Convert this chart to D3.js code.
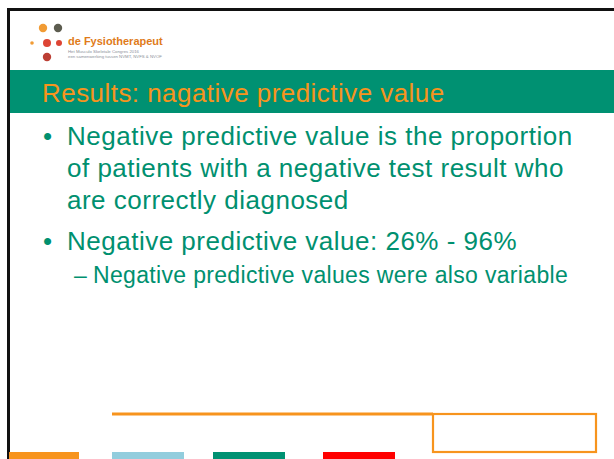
<!DOCTYPE html>
<meta charset="utf-8">
<html>
<head>
  <script src="https://d3js.org/d3.v7.min.js" charset="utf-8"></script>
  <style>
    body { margin: 0; background: #fff; }
    svg { display: block; }
    text { font-family: 'Liberation Sans', Arial, sans-serif; }
    .title { fill: #f7941d; font-size: 26px; letter-spacing: 0.45px; }
    .bullet { fill: #00906f; font-size: 26px; letter-spacing: 0.5px; }
    .sub { fill: #00906f; font-size: 23px; letter-spacing: 0.33px; }
  </style>
</head>
<body>
  <script>
    // slide content
    var title = 'Results: nagative predictive value';
    var bullets = [
      ['Negative predictive value is the proportion',
       'of patients with a negative test result who',
       'are correctly diagnosed'],
      ['Negative predictive value: 26% - 96%']
    ];
    var subBullets = ['Negative predictive values were also variable'];
    var logoName = 'de Fysiotherapeut';
    var logoLines = ['Het Musculo Skeletale Congres 2016',
                     'een samenwerking tussen NVMT, NVFS & NVOF'];
    var footerBars = ['orange', 'blue', 'green', 'red'];

    var W = 614, H = 459;
    var svg = d3.select('body').append('svg')
      .attr('width', W).attr('height', H);

    //Frame
    svg.append('rect').attr('x', 7).attr('y', 8).attr('width', W).attr('height', 3).attr('fill', '#111');
    svg.append('rect').attr('x', 7).attr('y', 8).attr('width', 3).attr('height', H).attr('fill', '#111');

    //Logo dots
    var dots = [
      {x: 43, y: 28, r: 4.2, c: '#f0901e'},
      {x: 58, y: 28, r: 4.2, c: '#4a4a3c'},
      {x: 32, y: 43, r: 1.8, c: '#f0901e'},
      {x: 47, y: 43, r: 4, c: '#d9301e'},
      {x: 59, y: 43, r: 3, c: '#d9301e'},
      {x: 47, y: 57, r: 4.2, c: '#b52a1e'}
    ];
    svg.selectAll('circle.dot').data(dots).enter().append('circle')
      .attr('class', 'dot')
      .attr('cx', d => d.x).attr('cy', d => d.y).attr('r', d => d.r)
      .attr('fill', d => d.c).attr('opacity', 0.9);

    svg.append('text').attr('x', 68).attr('y', 45)
      .attr('fill', '#e07b1a').attr('font-size', 11).attr('font-weight', 'bold')
      .text(logoName);
    svg.selectAll('text.logo').data(logoLines).enter().append('text')
      .attr('class', 'logo')
      .attr('x', 68).attr('y', (d, i) => 53 + i * 5)
      .attr('fill', '#8a8f98').attr('font-size', 4.3)
      .text(d => d);

    //Header band
    svg.append('rect').attr('x', 10).attr('y', 70).attr('width', W).attr('height', 43).attr('fill', '#009172');
    svg.append('text').attr('class', 'title').attr('x', 42).attr('y', 102).text(title);

    //Bullets
    var lineH = 32;
    var y0 = [145, 250];
    bullets.forEach(function(lines, i) {
      svg.append('text').attr('class', 'bullet').attr('x', 43).attr('y', y0[i]).text('\u2022');
      svg.selectAll('text.b' + i).data(lines).enter().append('text')
        .attr('class', 'bullet b' + i)
        .attr('x', 67).attr('y', (d, j) => y0[i] + j * lineH)
        .text(d => d);
    });
    var subs = svg.selectAll('g.sub').data(subBullets).enter().append('g')
      .attr('class', 'subg')
      .attr('transform', (d, i) => `translate(0, ${283 + i * 28})`);
    subs.append('text').attr('class', 'sub').attr('x', 74).text('\u2013');
    subs.append('text').attr('class', 'sub').attr('x', 93).text(d => d);

    //Footer line and box
    svg.append('line').attr('x1', 112).attr('x2', 433).attr('y1', 414).attr('y2', 414)
      .attr('stroke', '#f7941d').attr('stroke-width', 3);
    svg.append('rect').attr('x', 433).attr('y', 414).attr('width', 163).attr('height', 38)
      .attr('fill', 'none').attr('stroke', '#f7941d').attr('stroke-width', 2.2);

    //Footer color bars
    var barColor = d3.scaleOrdinal().domain(footerBars)
      .range(['#f7941d', '#92cddd', '#009172', '#ff0000']);
    var barX = d3.scaleOrdinal().domain(footerBars).range([9, 112, 213, 323]);
    var barW = d3.scaleOrdinal().domain(footerBars).range([70, 72, 72, 72]);
    svg.selectAll('rect.bar').data(footerBars).enter().append('rect')
      .attr('class', 'bar')
      .attr('x', d => barX(d)).attr('y', 452)
      .attr('width', d => barW(d)).attr('height', 8)
      .attr('fill', d => barColor(d));
  </script>
</body>
</html>
